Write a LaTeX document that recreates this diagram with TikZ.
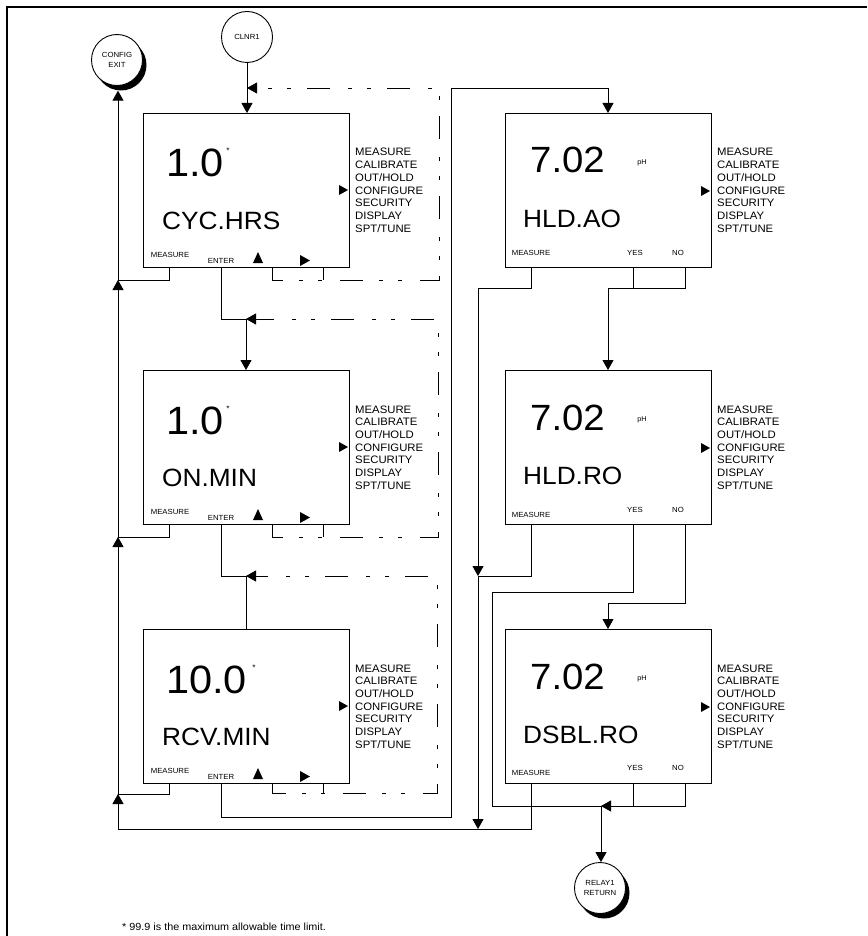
\documentclass[tikz,border=0pt]{standalone}
\usepackage{fontspec}
\setmainfont{Liberation Sans}[FakeStretch=1.05]
\usetikzlibrary{arrows.meta,calc}
\newcommand\menutext{\begin{tabular}[t]{@{}l@{}}MEASURE\\CALIBRATE\\OUT/HOLD\\CONFIGURE\\SECURITY\\DISPLAY\\SPT/TUNE\end{tabular}}
\tikzset{
  ln/.style={line width=0.9pt},
  tipend/.style={-{Triangle[length=10pt,width=11pt]}},
  arr/.style={ln,tipend},
  dd/.style={ln,dash pattern=on 23pt off 16pt on 4pt off 15pt on 4pt off 18pt},
  frame/.style={line width=1.6pt},
  dbox/.style={draw,line width=1pt,minimum width=206pt,minimum height=154pt,inner sep=0pt,anchor=north west},
  bignum/.style={font=\fontsize{39.5}{40}\selectfont,inner sep=0pt,anchor=base west},
  bignumR/.style={font=\fontsize{36.5}{37}\selectfont,inner sep=0pt,anchor=base west},
  lbl/.style={font=\fontsize{25}{26}\selectfont,inner sep=0pt,anchor=base west},
  menu/.style={font=\fontsize{10.8}{12.7}\selectfont,inner sep=0pt,anchor=base west},
  small/.style={font=\fontsize{7.4}{9}\selectfont,inner sep=0pt},
  ast/.style={font=\fontsize{8}{8}\selectfont,inner sep=0pt,anchor=base},
  unit/.style={font=\fontsize{7}{8}\selectfont,inner sep=0pt},
  circ/.style={circle,draw,fill=white,line width=0.9pt,minimum size=51pt,inner sep=0pt,align=center,font=\fontsize{7.4}{10}\selectfont},
  shadowc/.style={circle,fill=black,minimum size=51pt,inner sep=0pt},
  foot/.style={font=\fontsize{10.3}{12}\selectfont,inner sep=0pt,anchor=west},
}
% left-column display box
\newcommand\leftbox[6]{%
  \node[dbox] (#1) at (#2,#3) {};
  \node[bignum] (#1num) at ($(#1.north west)+(23,64)$) {#4};
  \node[ast] (#1ast) at ($(#1.north west)+(#5,41)$) {*};
  \node[lbl] (#1lbl) at ($(#1.north west)+(19,116)$) {#6};
  \node[menu] (#1menu) at ($(#1.north west)+(212,43)$) {\menutext};
  \fill ($(#1.north west)+(196,72)$) -- ++(0,10) -- ++(9,-5) -- cycle;
  \node[small] (#1meas) at ($(#1.north west)+(27,142)$) {MEASURE};
  \node[small] (#1ent) at ($(#1.north west)+(78,148)$) {ENTER};
  \fill ($(#1.north west)+(110,150)$) -- ++(10,0) -- ++(-5,-11) -- cycle;
  \fill ($(#1.north west)+(157,142)$) -- ++(0,11) -- ++(10,-5.5) -- cycle;
  \coordinate (#1-m) at ($(#1.south west)+(26,0)$);
  \coordinate (#1-e) at ($(#1.south west)+(78,0)$);
  \coordinate (#1-u) at ($(#1.south west)+(129,0)$);
  \coordinate (#1-r) at ($(#1.south west)+(180,0)$);
}
% right-column display box
\newcommand\rightbox[6]{%
  \node[dbox] (#1) at (#2,#3) {};
  \node[bignumR] (#1num) at ($(#1.north west)+(25,60)$) {7.02};
  \node[unit] (#1unit) at ($(#1.north west)+(137,50)$) {pH};
  \node[lbl] (#1lbl) at ($(#1.north west)+(18,114)$) {#4};
  \node[menu] (#1menu) at ($(#1.north west)+(212,43)$) {\menutext};
  \fill ($(#1.north west)+(196,73)$) -- ++(0,10) -- ++(9,-5) -- cycle;
  \node[small] (#1meas) at ($(#1.north west)+(26,#5)$) {MEASURE};
  \node[small] (#1yes) at ($(#1.north west)+(130,#6)$) {YES};
  \node[small] (#1no) at ($(#1.north west)+(173,#6)$) {NO};
  \coordinate (#1-m) at ($(#1.south west)+(26,0)$);
  \coordinate (#1-y) at ($(#1.south west)+(128,0)$);
  \coordinate (#1-n) at ($(#1.south west)+(180,0)$);
}
\begin{document}
\begin{tikzpicture}[x=1pt,y=-1pt]
\useasboundingbox (0,0) rectangle (867,936);
\draw[frame] (7,936) -- (7,7) -- (867,7);

% terminals
\node[shadowc] (ces) at (121,65) {};
\node[circ] (ce) at (117,60) {CONFIG\\EXIT};
\node[circ] (cl) at (247,37) {CLNR1};
\node[shadowc] (rrs) at (604,893) {};
\node[circ] (rr) at (600,888) {RELAY1\\RETURN};

% boxes
\leftbox{b1}{143}{113}{1.0}{85}{CYC.HRS}
\leftbox{b2}{143}{370}{1.0}{85}{ON.MIN}
\leftbox{b3}{143}{629}{10.0}{111}{RCV.MIN}
\rightbox{bA}{505}{113}{HLD.AO}{140}{140}
\rightbox{bB}{505}{370}{HLD.RO}{145}{140}
\rightbox{bC}{505}{629}{DSBL.RO}{144}{139}

% junction coordinates
\coordinate (ex) at (118,829);
\coordinate (jL1) at (118,280);
\coordinate (jL2) at (118,537);
\coordinate (jL3) at (118,794);
\coordinate (k0) at (247,88);
\coordinate (k1) at (246,319);
\coordinate (k2) at (246,576);
\coordinate (d1) at (439,280);
\coordinate (d2) at (438,537);
\coordinate (d3) at (437,793);
\coordinate (q1) at (451,817);
\coordinate (q2) at (608,88);
\coordinate (jR1) at (478,288);
\coordinate (jR2) at (478,576);
\coordinate (jR3) at (478,829);
\coordinate (jA) at (608,288);
\coordinate (jB) at (608,603);
\coordinate (p1) at (492,592);
\coordinate (jC) at (601,806);

% CLNR1 entry
\draw[arr] (cl) -- (cl |- b1.north);

% left trunk to CONFIG EXIT
\draw[arr] (ex) -- (jL3);
\draw[arr] (jL3) -- (jL2);
\draw[arr] (jL2) -- (jL1);
\draw[arr] (jL1) -- (jL1 |- ces.south);
\draw[ln] (b1-m) |- (jL1);
\draw[ln] (b2-m) |- (jL2);
\draw[ln] (b3-m) |- (jL3);

% ENTER paths
\draw[ln] (b1-e) |- (k1);
\draw[arr] (k1) -- (k1 |- b2.north);
\draw[ln] (b2-e) |- (k2);
\draw[ln] (b3.north -| k2) -- (k2);
\draw[arr] (b3-e) |- (q1) |- (q2) -- (q2 |- bA.north);

% dashed scroll loops
\draw[dd,tipend] (b1-u) |- (d1) |- (k0);
\draw[ln] (b1-r) -- (b1-r |- d1);
\draw[dd,tipend] (b2-u) |- (d2) |- (k1);
\draw[ln] (b2-r) -- (b2-r |- d2);
\draw[dd,tipend] (b3-u) |- (d3) |- (k2);
\draw[ln] (b3-r) -- (b3-r |- d3);

% right MEASURE trunk
\draw[ln] (bA-m) |- (jR1);
\draw[arr] (jR1) -- (jR2);
\draw[arr] (jR2) -- (jR3);
\draw[ln] (bB-m) |- (jR2);
\draw[ln] (bC-m) |- (ex);

% YES / NO paths
\draw[ln] (bA-y) -- (bA-y |- jA);
\draw[ln] (bA-n) |- (jA);
\draw[arr] (jA) -- (jA |- bB.north);
\draw[ln] (bB-n) |- (jB);
\draw[arr] (jB) -- (jB |- bC.north);
\draw[ln] (bB-y) |- (p1) |- (jC);
\draw[arr] (bC-n) |- (jC);
\draw[ln] (bC-y) -- (bC-y |- jC);
\draw[arr] (jC) -- (jC |- rr.north);

% footnote
\node[foot] (fn) at (122,927) {* 99.9 is the maximum allowable time limit.};
\end{tikzpicture}
\end{document}
